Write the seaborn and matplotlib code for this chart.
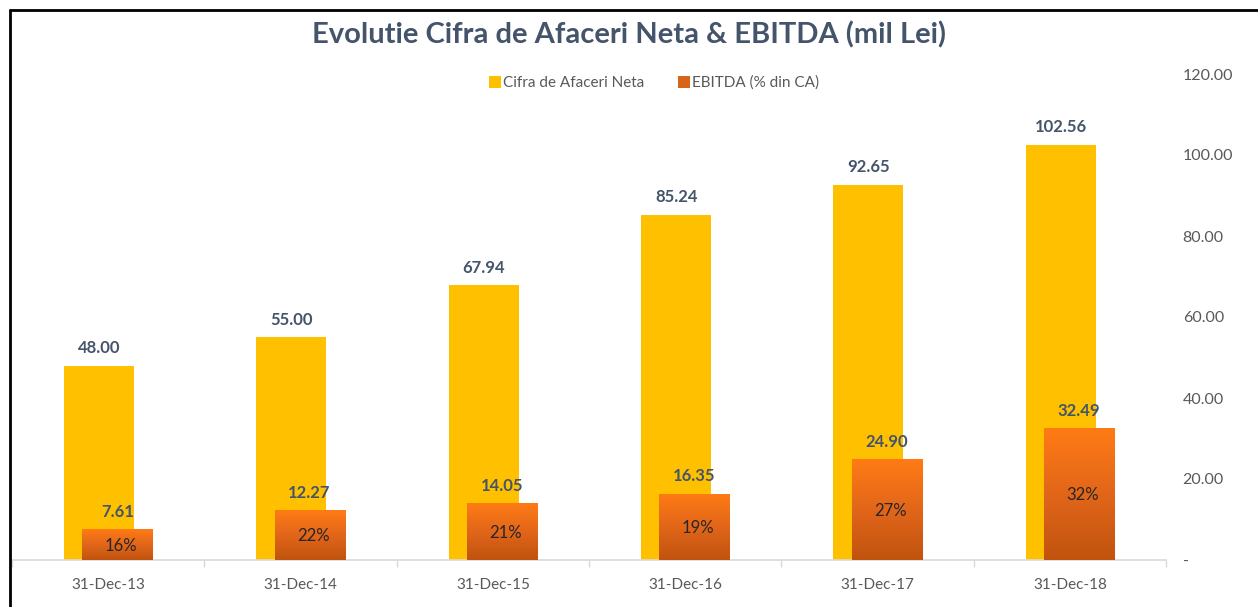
import numpy as np
import pandas as pd
import matplotlib
matplotlib.use("Agg")
import matplotlib.pyplot as plt
import seaborn as sns
from matplotlib.lines import Line2D
from matplotlib.ticker import FixedLocator
from matplotlib.colors import LinearSegmentedColormap

categories = ["31-Dec-13", "31-Dec-14", "31-Dec-15", "31-Dec-16", "31-Dec-17", "31-Dec-18"]
cifra_afaceri = [48.00, 55.00, 67.94, 85.24, 92.65, 102.56]
ebitda = [7.61, 12.27, 14.05, 16.35, 24.90, 32.49]
ebitda_pct = ["16%", "22%", "21%", "19%", "27%", "32%"]
y_ticks = [0, 20, 40, 60, 80, 100, 120]
y_tick_labels = ["-", "20.00", "40.00", "60.00", "80.00", "100.00", "120.00"]

sns.set_theme(style="white")
plt.rcParams["font.family"] = ["Lato", "DejaVu Sans"]

W, H = 1258, 607
fig = plt.figure(figsize=(W / 100, H / 100), dpi=100)
ax = fig.add_axes([12 / W, 1 - 560 / H, (1166 - 12) / W, (560 - 74) / H])

pos = np.arange(len(categories), dtype=float)
off = 0.047
bw = 0.364
yellow = "#FFC000"
slate = "#44546A"
grey = "#595959"

df1 = pd.DataFrame({"x": pos - off, "y": cifra_afaceri})
df2 = pd.DataFrame({"x": pos + off, "y": ebitda})
sns.barplot(data=df1, x="x", y="y", native_scale=True, width=bw, color=yellow,
            saturation=1, ax=ax, zorder=2, linewidth=0)
n1 = len(ax.patches)
sns.barplot(data=df2, x="x", y="y", native_scale=True, width=bw, color="#ED7D31",
            saturation=1, ax=ax, zorder=3, linewidth=0)
orange_patches = ax.patches[n1:]

# gradient fill for EBITDA bars
cmap = LinearSegmentedColormap.from_list("org", ["#C0530E", "#E2661A", "#FF7B15"])
grad = np.linspace(0, 1, 256).reshape(-1, 1)
for p in orange_patches:
    x0, y0 = p.get_x(), p.get_y()
    w, h = p.get_width(), p.get_height()
    im = ax.imshow(grad, cmap=cmap, origin="lower", aspect="auto",
                   extent=[x0, x0 + w, y0, y0 + h], zorder=3.5)
    im.set_clip_path(p)
    p.set_facecolor("none")
ax.set_xlim(-0.5, len(categories) - 0.5)
ax.set_ylim(0, 120)

# labels
for i in range(len(categories)):
    ax.text(pos[i] - off, cifra_afaceri[i] + 2.3, f"{cifra_afaceri[i]:.2f}", ha="center",
            va="bottom", fontsize=12, fontweight="bold", color=slate, zorder=5)
    ax.text(pos[i] + off, ebitda[i] + 2.3, f"{ebitda[i]:.2f}", ha="center",
            va="bottom", fontsize=12, fontweight="bold", color=slate, zorder=5)
    ax.text(pos[i] + off + 0.02, ebitda[i] / 2 - 0.3, ebitda_pct[i], ha="center", va="center",
            fontsize=12, color="#262626", zorder=5)

# axes styling
for s in ["left", "top", "right"]:
    ax.spines[s].set_visible(False)
ax.spines["bottom"].set_color("#D9D9D9")
ax.spines["bottom"].set_linewidth(1.2)
ax.set_xticks(pos)
ax.set_xticklabels(categories, fontsize=11, color=grey)
ax.xaxis.set_minor_locator(FixedLocator(np.arange(-0.5, len(categories), 1.0)))
ax.tick_params(axis="x", which="major", length=0, pad=13)
ax.tick_params(axis="x", which="minor", length=5, color="#D9D9D9", bottom=True)
ax.yaxis.tick_right()
ax.set_yticks(y_ticks)
ax.set_yticklabels(y_tick_labels, fontsize=11.5, color=grey)
ax.tick_params(axis="y", length=0, pad=12)
ax.set_xlabel("")
ax.set_ylabel("")
ax.grid(False)

fig.text(629 / W, 1 - 35 / H, "Evolutie Cifra de Afaceri Neta & EBITDA (mil Lei)",
         ha="center", va="center", fontsize=21, fontweight="bold", color=slate)

handles = [Line2D([], [], marker="s", linestyle="none", markersize=8, markerfacecolor=yellow,
                  markeredgewidth=0),
           Line2D([], [], marker="s", linestyle="none", markersize=8, markerfacecolor="#D8641A",
                  markeredgewidth=0)]
fig.legend(handles, ["Cifra de Afaceri Neta", "EBITDA (% din CA)"], loc="center",
           bbox_to_anchor=(654 / W, 1 - 83 / H), ncol=2, frameon=False, fontsize=11,
           labelcolor=grey, handletextpad=0.1, columnspacing=2.2, handlelength=0.8)

# chart border (top and left)
fig.add_artist(Line2D([10 / W, 10 / W], [0, 1 - 10 / H], color="black", lw=2,
                      transform=fig.transFigure))
fig.add_artist(Line2D([10 / W, 1], [1 - 10 / H, 1 - 10 / H], color="black", lw=2,
                      transform=fig.transFigure))

fig.savefig("out.png", dpi=100, facecolor="white")
